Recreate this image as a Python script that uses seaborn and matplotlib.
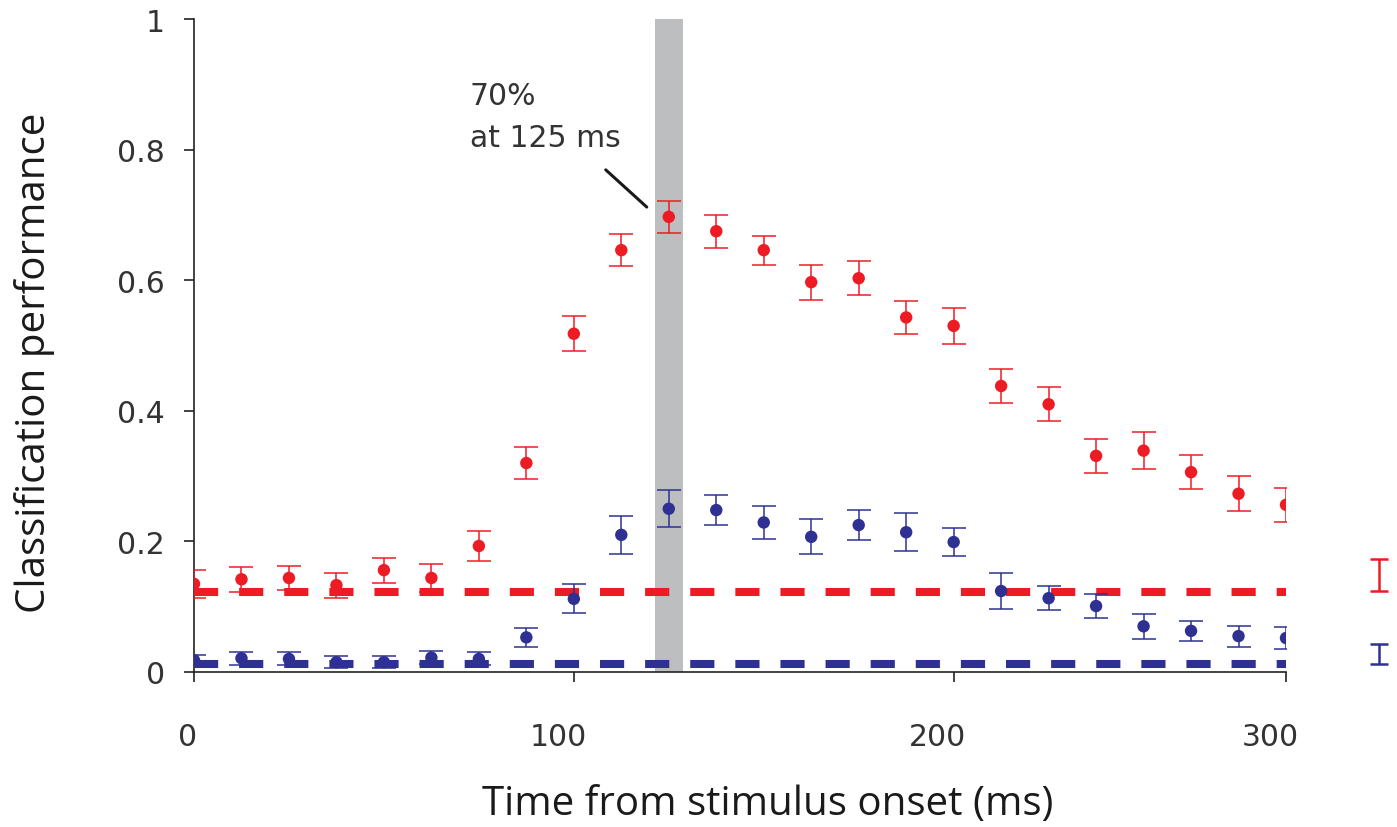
import numpy as np
import pandas as pd
import matplotlib
matplotlib.use("Agg")
import matplotlib.pyplot as plt
from matplotlib.transforms import ScaledTranslation
import seaborn as sns

# ---- data ----
time_ms = [0, 12.5, 25, 37.5, 50, 62.5, 75, 87.5, 100, 112.5, 125, 137.5,
           150, 162.5, 175, 187.5, 200, 212.5, 225, 237.5, 250, 262.5, 275, 287.5]
red_mean = [0.135, 0.142, 0.144, 0.133, 0.156, 0.144, 0.193, 0.320, 0.518, 0.646, 0.697, 0.675,
            0.646, 0.597, 0.603, 0.543, 0.530, 0.438, 0.410, 0.331, 0.339, 0.306, 0.273, 0.256]
red_err = [0.021, 0.019, 0.019, 0.019, 0.019, 0.021, 0.023, 0.025, 0.027, 0.024, 0.025, 0.025,
           0.022, 0.027, 0.026, 0.025, 0.028, 0.026, 0.026, 0.026, 0.028, 0.026, 0.027, 0.026]
blue_mean = [0.018, 0.021, 0.020, 0.015, 0.015, 0.022, 0.020, 0.053, 0.112, 0.210, 0.250, 0.248,
             0.229, 0.207, 0.225, 0.214, 0.199, 0.124, 0.113, 0.101, 0.070, 0.063, 0.055, 0.052]
blue_err = [0.008, 0.010, 0.010, 0.009, 0.009, 0.010, 0.010, 0.015, 0.022, 0.029, 0.028, 0.023,
            0.025, 0.027, 0.023, 0.029, 0.021, 0.027, 0.018, 0.018, 0.019, 0.015, 0.016, 0.017]

red_chance = 0.1225
blue_chance = 0.0123
chance_spread_x = 312
red_spread = [0.124, 0.173]
blue_spread = [0.012, 0.043]

highlight_ms = 125
highlight_halfwidth = 3.7

x_ticks = [0, 100, 200, 287.5]
x_ticklabels = ["0", "100", "200", "300"]
x_label_shift_px = [-6, -16, -16, -16]
y_ticks = [0, 0.2, 0.4, 0.6, 0.8, 1.0]
y_ticklabels = ["0", "0.2", "0.4", "0.6", "0.8", "1"]

annot_lines = ["70%", "at 125 ms"]

RED = "#ED1C24"
BLUE = "#2E3192"
GRAY = "#BCBEC0"
TXT = "#333333"

df = pd.DataFrame({
    "time": time_ms * 2,
    "perf": red_mean + blue_mean,
    "err": red_err + blue_err,
    "group": ["red"] * len(time_ms) + ["blue"] * len(time_ms),
})

sns.set_style("white")
plt.rcParams["font.family"] = ["Open Sans", "DejaVu Sans"]

fig = plt.figure(figsize=(13.97, 8.28), dpi=100)
ax = fig.add_axes([194 / 1397, 1 - 673 / 828, (1286 - 194) / 1397, (673 - 20) / 828])

ax.axvspan(highlight_ms - highlight_halfwidth, highlight_ms + highlight_halfwidth,
           color=GRAY, lw=0, zorder=1)

for grp, col, z in [("red", RED, 3), ("blue", BLUE, 6)]:
    sub = df[df.group == grp]
    ax.errorbar(sub.time, sub.perf, yerr=sub.err, fmt="none", ecolor=col,
                elinewidth=1.1, capsize=8.6, capthick=1.1, zorder=z)
    sns.scatterplot(data=sub, x="time", y="perf", color=col, s=80, edgecolor="none",
                    ax=ax, zorder=z + 0.5, legend=False)

ax.hlines(red_chance, 0, 287.5, colors=RED, linewidth=5.8, linestyles=(0, (3.0, 2.6)),
          zorder=4)
ax.hlines(blue_chance, 0, 287.5, colors=BLUE, linewidth=5.8, linestyles=(0, (3.0, 2.6)),
          zorder=5)

# chance spread bars at right
for (lo, hi), col in [(red_spread, RED), (blue_spread, BLUE)]:
    c = (lo + hi) / 2
    e = (hi - lo) / 2
    ax.errorbar([chance_spread_x], [c], yerr=[e], fmt="none", ecolor=col,
                elinewidth=1.8, capsize=6.8, capthick=1.8, clip_on=False)

# annotation
ax.text(72.6, 0.870, annot_lines[0], fontsize=21.5, color=TXT, ha="left", va="baseline",
        family="DejaVu Sans")
ax.text(72.6, 0.8055, annot_lines[1], fontsize=21.5, color=TXT, ha="left", va="baseline",
        family="DejaVu Sans")
ax.plot([108.4, 119.2], [0.769, 0.712], color="#1a1a1a", lw=2.2, zorder=7)

ax.set_xlim(0, 287.5)
ax.set_ylim(0, 1)
ax.set_xticks(x_ticks)
ax.set_xticklabels(x_ticklabels)
ax.set_yticks(y_ticks)
ax.set_yticklabels(y_ticklabels)
ax.tick_params(axis="both", direction="out", length=7, width=1.2, colors="#222222",
               labelsize=21.5, labelcolor=TXT, bottom=True, left=True)
ax.tick_params(axis="x", pad=29)
ax.tick_params(axis="y", pad=14)
for lbl in ax.get_xticklabels() + ax.get_yticklabels():
    lbl.set_family("DejaVu Sans")

for lbl, dx in zip(ax.get_xticklabels(), x_label_shift_px):
    lbl.set_transform(lbl.get_transform() + ScaledTranslation(dx / 100, 0, fig.dpi_scale_trans))

sns.despine(ax=ax)
for s in ["left", "bottom"]:
    ax.spines[s].set_linewidth(1.2)
    ax.spines[s].set_color("#222222")

ax.set_xlabel("Time from stimulus onset (ms)", fontsize=29, color="#1a1a1a")
ax.set_ylabel("Classification performance", fontsize=29, color="#1a1a1a")
ax.xaxis.set_label_coords((768 - 194) / (1286 - 194), -(805 - 673) / (673 - 20))
ax.yaxis.set_label_coords(-(194 - 35) / (1286 - 194), (673 - 363) / (673 - 20))
ax.xaxis.label.set_va("center")
ax.yaxis.label.set_va("center")

fig.savefig("out.png", dpi=100)
